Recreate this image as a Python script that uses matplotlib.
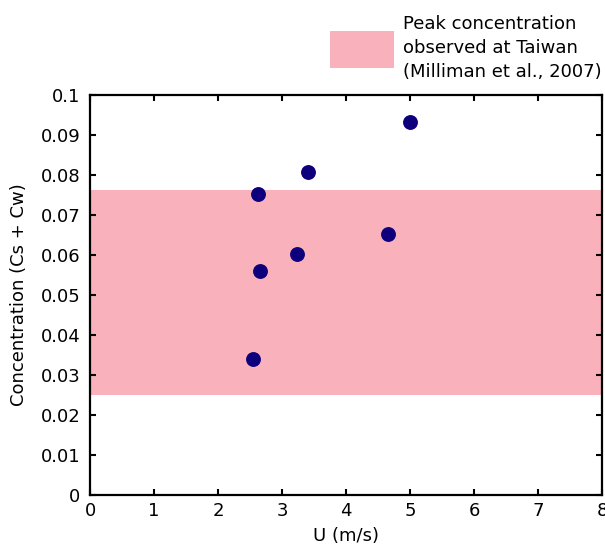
import matplotlib
matplotlib.use("Agg")
import matplotlib.pyplot as plt

# wind speed vs concentration
u = [2.54, 2.63, 2.66, 3.23, 3.41, 4.66, 5.0]
conc = [0.034, 0.0754, 0.056, 0.0604, 0.0808, 0.0652, 0.0933]

# Taiwan peak concentration range
band_lo = 0.025
band_hi = 0.0764
band_label = "Peak concentration\nobserved at Taiwan\n(Milliman et al., 2007)"

xticks = [0, 1, 2, 3, 4, 5, 6, 7, 8]
yticks = [0, 0.01, 0.02, 0.03, 0.04, 0.05, 0.06, 0.07, 0.08, 0.09, 0.1]
ytick_labels = ["0", "0.01", "0.02", "0.03", "0.04", "0.05", "0.06", "0.07", "0.08", "0.09", "0.1"]

plt.rcParams['font.family'] = ['DejaVu Sans']
plt.rcParams['font.size'] = 13

fig = plt.figure(figsize=(6.05, 5.47), dpi=100)
ax = fig.add_axes([0.149, 0.095, 0.846, 0.731])

band = ax.fill_between([0, 8], band_lo, band_hi, color='#f9b2bc', lw=0, zorder=1)
ax.scatter(u, conc, s=115, color='#0e007c', zorder=3, lw=0)

ax.set_xlim(0, 8)
ax.set_ylim(0, 0.1)
ax.set_xticks(xticks)
ax.set_yticks(yticks)
ax.set_yticklabels(ytick_labels)
ax.tick_params(direction='in', top=True, right=True, length=4, width=1.5, labelsize=13)
ax.tick_params(axis='y', pad=7)
ax.tick_params(axis='x', pad=5)
for s in ax.spines.values():
    s.set_linewidth(1.6)
ax.set_xlabel("U (m/s)", fontsize=13, labelpad=5)
ax.set_ylabel("Concentration (Cs + Cw)", fontsize=13, labelpad=9)

leg = fig.legend([band], [band_label], loc='upper right', bbox_to_anchor=(1.022, 1.002),
                 frameon=False, fontsize=13, handlelength=3.5, handleheight=2.8,
                 handletextpad=0.55)
for t in leg.get_texts():
    t.set_linespacing(1.42)

fig.savefig("out.png", dpi=100)
